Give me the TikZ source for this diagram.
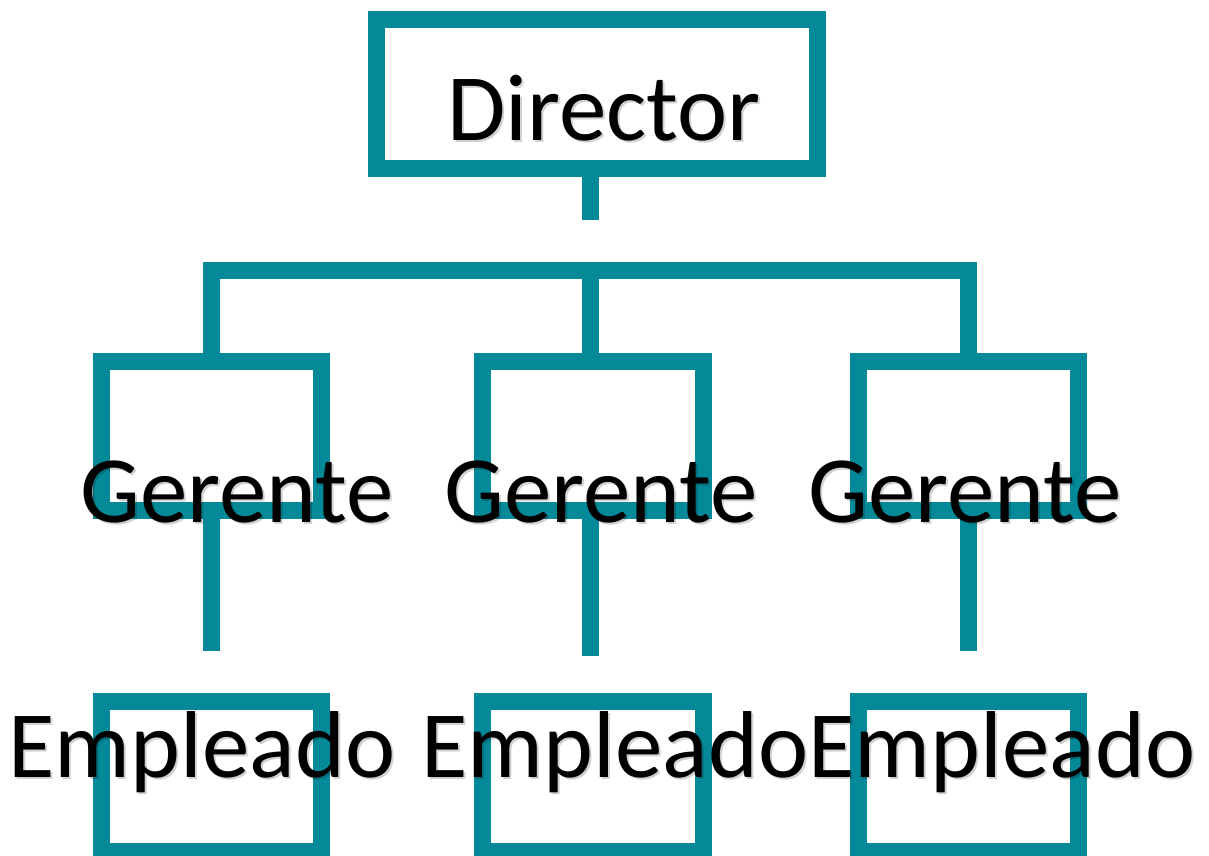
\documentclass[tikz,border=0pt]{standalone}
\usepackage{fontspec}
\setmainfont{Carlito}
\definecolor{teal}{RGB}{3,137,152}
\begin{document}
\begin{tikzpicture}[x=1pt,y=-1pt,
  box/.style={draw=teal,line width=17pt,inner sep=0pt,outer sep=0pt,minimum width=220pt,minimum height=149pt},
  conn/.style={draw=teal,line width=17pt,line join=miter},
  lbl/.style={inner sep=0pt,anchor=base,font=\fontsize{95}{100}\selectfont,text=black},
  shadow/.style={lbl,text=black,opacity=0.18}]
\useasboundingbox (0,0) rectangle (1209,855);
\clip (0,0) rectangle (1209,855);
% boxes
\node[box,minimum width=441pt] (D) at (597,94) {};
\node[box] (G1) at (211.5,436) {};
\node[box,minimum width=221pt] (G2) at (593,436) {};
\node[box] (G3) at (968.5,436) {};
\node[box,minimum height=150pt] (E1) at (211.5,776.5) {};
\node[box,minimum height=150pt,minimum width=221pt] (E2) at (593,776.5) {};
\node[box,minimum height=150pt] (E3) at (968.5,776.5) {};
% coordinates
\coordinate (m) at (590,270.5);
\coordinate (dstub) at (590,220);
\coordinate (s1) at (211.5,651);
\coordinate (s2) at (590,656);
\coordinate (s3) at (968.5,651);
% connectors
\draw[conn] (D.south -| m) -- (dstub);
\draw[conn] (G1.north) |- (m) -| (G3.north);
\draw[conn] (m) -- (G2.north -| m);
\draw[conn] (G1.south) -- (s1);
\draw[conn] (G2.south -| s2) -- (s2);
\draw[conn] (G3.south) -- (s3);
% text shadows
\node[shadow] at (606,142) {Director};
\node[shadow] at (239,524) {Gerente};
\node[shadow] at (603,524) {Gerente};
\node[shadow] at (967,524) {Gerente};
\node[shadow] at (204,779) {Empleado};
\node[shadow] at (617,779) {Empleado};
\node[shadow] at (1004,779) {Empleado};
% texts
\node[lbl] (tD) at (604,140) {Director};
\node[lbl] (tG1) at (237,522) {Gerente};
\node[lbl] (tG2) at (601,522) {Gerente};
\node[lbl] (tG3) at (965,522) {Gerente};
\node[lbl] (tE1) at (202,777) {Empleado};
\node[lbl] (tE2) at (615,777) {Empleado};
\node[lbl] (tE3) at (1002,777) {Empleado};
\end{tikzpicture}
\end{document}
